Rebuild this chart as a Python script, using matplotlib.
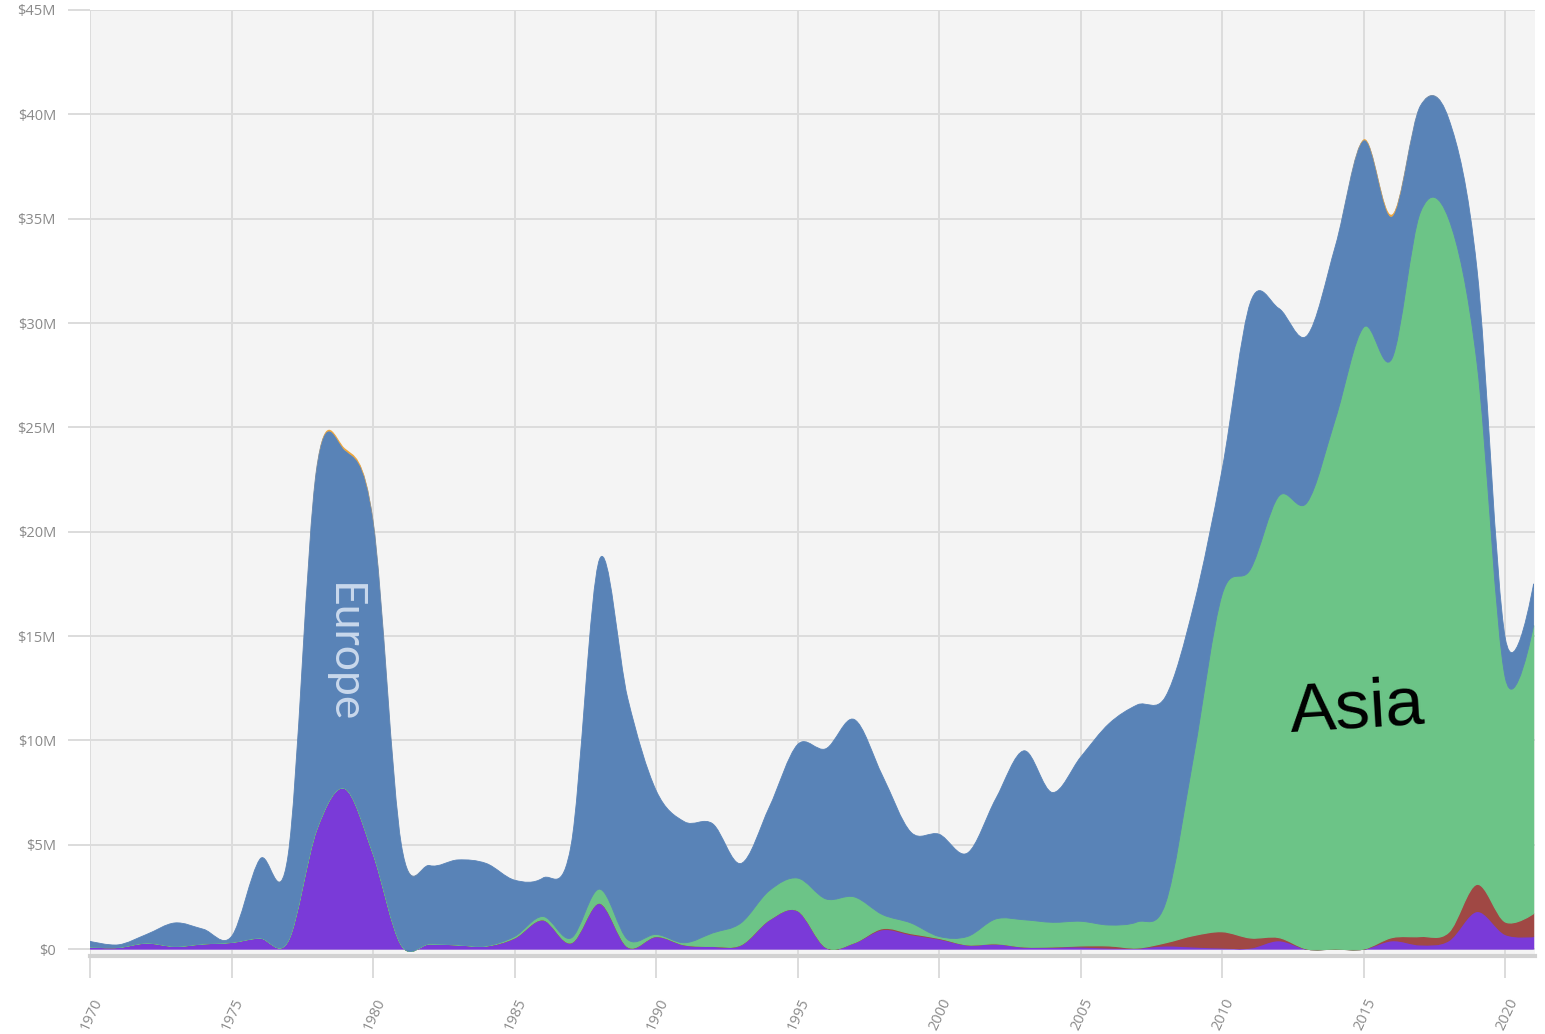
import numpy as np
import matplotlib
matplotlib.use("Agg")
import matplotlib.pyplot as plt
from matplotlib.path import Path
from matplotlib.patches import PathPatch
from matplotlib.transforms import ScaledTranslation

# ---------------- data (US$ millions) ----------------
years = list(range(1970, 2022))

purple = [0.10, 0.08, 0.29, 0.13, 0.25, 0.32, 0.53, 0.40, 5.70, 7.70,
          4.60, 0.20, 0.25, 0.20, 0.15, 0.53, 1.40, 0.30, 2.20, 0.10,
          0.60, 0.20, 0.13, 0.20, 1.40, 1.84, 0.08, 0.30, 0.93, 0.69,
          0.48, 0.20, 0.25, 0.10, 0.10, 0.10, 0.05, 0.05, 0.15, 0.10,
          0.05, 0.05, 0.40, 0.00, 0.00, 0.00, 0.40, 0.20, 0.40, 1.80,
          0.70, 0.60]

red = [0.0, 0.0, 0.0, 0.0, 0.0, 0.0, 0.0, 0.0, 0.0, 0.0,
       0.0, 0.0, 0.0, 0.0, 0.0, 0.0, 0.0, 0.0, 0.0, 0.0,
       0.0, 0.0, 0.0, 0.0, 0.0, 0.0, 0.0, 0.0, 0.05, 0.05,
       0.03, 0.0, 0.0, 0.0, 0.0, 0.05, 0.10, 0.0, 0.15, 0.55,
       0.78, 0.48, 0.15, 0.0, 0.0, 0.0, 0.15, 0.40, 0.40, 1.30,
       0.60, 1.10]

asia = [0.0, 0.0, 0.0, 0.0, 0.0, 0.0, 0.0, 0.0, 0.0, 0.0,
        0.0, 0.0, 0.0, 0.0, 0.0, 0.07, 0.16, 0.23, 0.67, 0.35,
        0.10, 0.10, 0.64, 1.05, 1.40, 1.56, 2.32, 2.20, 0.67, 0.51,
        0.09, 0.40, 1.19, 1.30, 1.18, 1.18, 1.00, 1.25, 1.90, 8.65,
        16.17, 17.67, 21.15, 21.40, 25.40, 29.80, 27.75, 34.70, 34.20, 25.00,
        11.70, 13.80]

europe = [0.27, 0.12, 0.41, 1.12, 0.70, 0.28, 3.77, 4.10, 17.25, 16.20,
          15.92, 4.80, 3.75, 4.07, 3.95, 2.70, 1.84, 4.47, 15.80, 11.55,
          6.90, 5.80, 5.23, 2.85, 4.00, 6.40, 7.20, 8.50, 6.65, 4.35,
          4.90, 4.00, 5.76, 8.10, 6.22, 7.87, 9.65, 10.40, 9.90, 7.20,
          6.00, 12.80, 9.00, 8.00, 8.30, 8.95, 6.80, 5.10, 4.80, 4.50,
          1.90, 2.00]

orange = [0.0] * 8 + [0.05, 0.10, 0.08] + [0.0] * 34 + [0.05, 0.10] + [0.0] * 5

layers = [purple, red, asia, europe, orange]
colors = ["#7a3ad8", "#a04844", "#6cc487", "#5983b7", "#eea53a"]
edge_w = [0.9, 0.9, 0.9, 0.6, 0.0]

y_ticks = [0, 5, 10, 15, 20, 25, 30, 35, 40, 45]
y_tick_labels = ["$0", "$5M", "$10M", "$15M", "$20M", "$25M", "$30M", "$35M", "$40M", "$45M"]
x_ticks = [1970, 1975, 1980, 1985, 1990, 1995, 2000, 2005, 2010, 2015, 2020]

# ---------------- figure ----------------
W, H = 1545, 1034
fig = plt.figure(figsize=(W / 100, H / 100), dpi=100)
ax_l, ax_r, ax_t, ax_b = 90, 1535, 10, 955.7
ax = fig.add_axes([ax_l / W, 1 - ax_b / H, (ax_r - ax_l) / W, (ax_b - ax_t) / H])
xmin, xmax, ymin, ymax = 1970, 2021.05, -0.32, 45
ax.set_xlim(xmin, xmax)
ax.set_ylim(ymin, ymax)
ax.set_facecolor("#f4f4f4")


def cardinal_segments(xs, ys):
    """Uniform Catmull-Rom (cardinal, tension 0) as cubic Bezier segments,
    with the same end handling as d3.curveCardinal."""
    pts = np.column_stack([xs, ys]).astype(float)
    n = len(pts)
    segs = []
    for i in range(n - 1):
        p1, p2 = pts[i], pts[i + 1]
        c1 = p1 + (pts[i + 1] - pts[i - 1]) / 6 if i > 0 else p1.copy()
        c2 = p2 - (pts[i + 2] - pts[i]) / 6 if i + 2 < n else p2.copy()
        segs.append((p1, c1, c2, p2))
    return segs


xs = np.array(years, dtype=float)
base = np.zeros(len(years))
for vals, col, lw in zip(layers, colors, edge_w):
    top = base + np.array(vals)
    top_segs = cardinal_segments(xs, top)
    bot_segs = cardinal_segments(xs, base)
    verts = [top_segs[0][0]]
    codes = [Path.MOVETO]
    for p1, c1, c2, p2 in top_segs:
        verts += [c1, c2, p2]
        codes += [Path.CURVE4] * 3
    verts.append(bot_segs[-1][3])
    codes.append(Path.LINETO)
    for p1, c1, c2, p2 in reversed(bot_segs):
        verts += [c2, c1, p1]
        codes += [Path.CURVE4] * 3
    verts.append(verts[0])
    codes.append(Path.CLOSEPOLY)
    patch = PathPatch(Path(np.array(verts), codes), facecolor=col,
                      edgecolor=col if lw > 0 else "none", lw=lw, zorder=2)
    ax.add_patch(patch)
    base = top

# ---------------- axes styling ----------------
grid_c = "#dcdcdc"
ax.set_axisbelow(True)
ax.grid(True, color=grid_c, lw=1.4)
for s in ["left", "right", "top"]:
    ax.spines[s].set_visible(False)
ax.spines["bottom"].set_color("#d2d2d2")
ax.spines["bottom"].set_linewidth(3)

ax.set_yticks(y_ticks)
ax.set_yticklabels(y_tick_labels)
ax.set_xticks(x_ticks)
ax.set_xticklabels([str(v) for v in x_ticks])
ax.tick_params(axis="both", length=16, width=1.4, color=grid_c,
               labelcolor="#8a8a8a", labelsize=10.5)
ax.tick_params(axis="y", pad=8.5)
ax.tick_params(axis="x", pad=15)
for lab in ax.get_yticklabels():
    lab.set_fontfamily("Open Sans")
off = ScaledTranslation(8.5 / 100, 0, fig.dpi_scale_trans)
for lab in ax.get_xticklabels():
    lab.set_fontfamily("Open Sans")
    lab.set_rotation(65)
    lab.set_ha("right")
    lab.set_va("center")
    lab.set_rotation_mode("anchor")
    lab.set_transform(lab.get_transform() + off)

# ---------------- labels ----------------
ax.text(1978.94, 14.2, "Europe", rotation=-90, ha="center", va="center",
        fontsize=32, color="#c9d8ec", family="Lato", fontweight="normal", zorder=5)
ax.text(2014.76, 11.5, "Asia", rotation=3.5, ha="center", va="center",
        fontsize=50, color="black", family="Liberation Sans", zorder=5)

fig.savefig("out.png", dpi=100)
